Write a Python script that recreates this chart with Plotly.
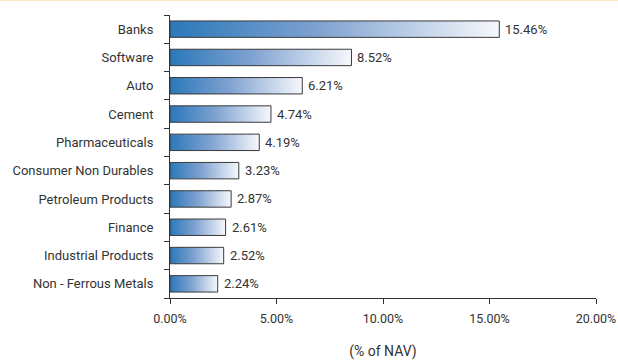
import plotly.graph_objects as go

# Sector allocation (% of NAV)
sectors = [
    "Banks", "Software", "Auto", "Cement", "Pharmaceuticals",
    "Consumer Non Durables", "Petroleum Products", "Finance",
    "Industrial Products", "Non - Ferrous Metals",
]
weights = [15.46, 8.52, 6.21, 4.74, 4.19, 3.23, 2.87, 2.61, 2.52, 2.24]
x_ticks = [0, 5, 10, 15, 20]
x_tick_labels = ["0.00%", "5.00%", "10.00%", "15.00%", "20.00%"]

BAR_HALF = 0.29
TEXT = "#333333"
FONT = "Roboto"
FS = 13

n = len(sectors)
positions = [n - 1 - i for i in range(n)]  # first sector on top

fig = go.Figure()

# each bar is a filled rectangle with its own left-to-right gradient
for name, w, pos in zip(sectors, weights, positions):
    fig.add_trace(go.Scatter(
        x=[0, w, w, 0, 0],
        y=[pos - BAR_HALF, pos - BAR_HALF, pos + BAR_HALF, pos + BAR_HALF, pos - BAR_HALF],
        mode="lines",
        fill="toself",
        fillgradient=dict(
            type="horizontal",
            colorscale=[[0, "#2a78ba"], [0.45, "#7fa2d0"], [1, "#f6f8fc"]],
        ),
        line=dict(color="#3a3a3a", width=1),
        hoverinfo="skip",
        showlegend=False,
        name=name,
    ))
    fig.add_annotation(
        x=w, y=pos, text=f"{w:.2f}%", showarrow=False,
        xanchor="left", xshift=4, yanchor="middle",
        font=dict(family=FONT, size=FS, color=TEXT),
    )

# thin accent rule along the top edge
fig.add_shape(
    type="line", xref="paper", yref="paper",
    x0=-0.5, x1=1.5, y0=1, y1=1,
    ysizemode="pixel", yanchor=1,
    line=dict(color="#fde5c2", width=2),
)
fig.layout.shapes[0].update(y0=15, y1=15)

fig.update_layout(
    width=618, height=360,
    margin=dict(l=170, r=22, t=15, b=62),
    paper_bgcolor="white", plot_bgcolor="white",
    font=dict(family=FONT, size=FS, color=TEXT),
)

fig.update_xaxes(
    range=[0, 20], tickvals=x_ticks, ticktext=x_tick_labels,
    showgrid=False, zeroline=False,
    showline=True, linecolor="#333333", linewidth=1,
    ticks="outside", ticklen=5, tickcolor="#333333",
    ticklabelstandoff=4,
    tickfont=dict(size=12.5, color=TEXT),
    title=dict(text="(% of NAV)", font=dict(size=14, color=TEXT), standoff=24),
    automargin=False,
)

fig.update_yaxes(
    range=[-0.5, n - 0.5], tickvals=positions, ticktext=sectors,
    showgrid=False, zeroline=False,
    showline=True, linecolor="#333333", linewidth=1,
    ticks="", ticklabelstandoff=13,
    minor=dict(
        tickvals=[p - 0.5 for p in range(n + 1)],
        ticks="outside", ticklen=5, tickcolor="#333333",
    ),
    tickfont=dict(size=FS, color=TEXT),
    automargin=False,
)

fig.write_html("out.html")
